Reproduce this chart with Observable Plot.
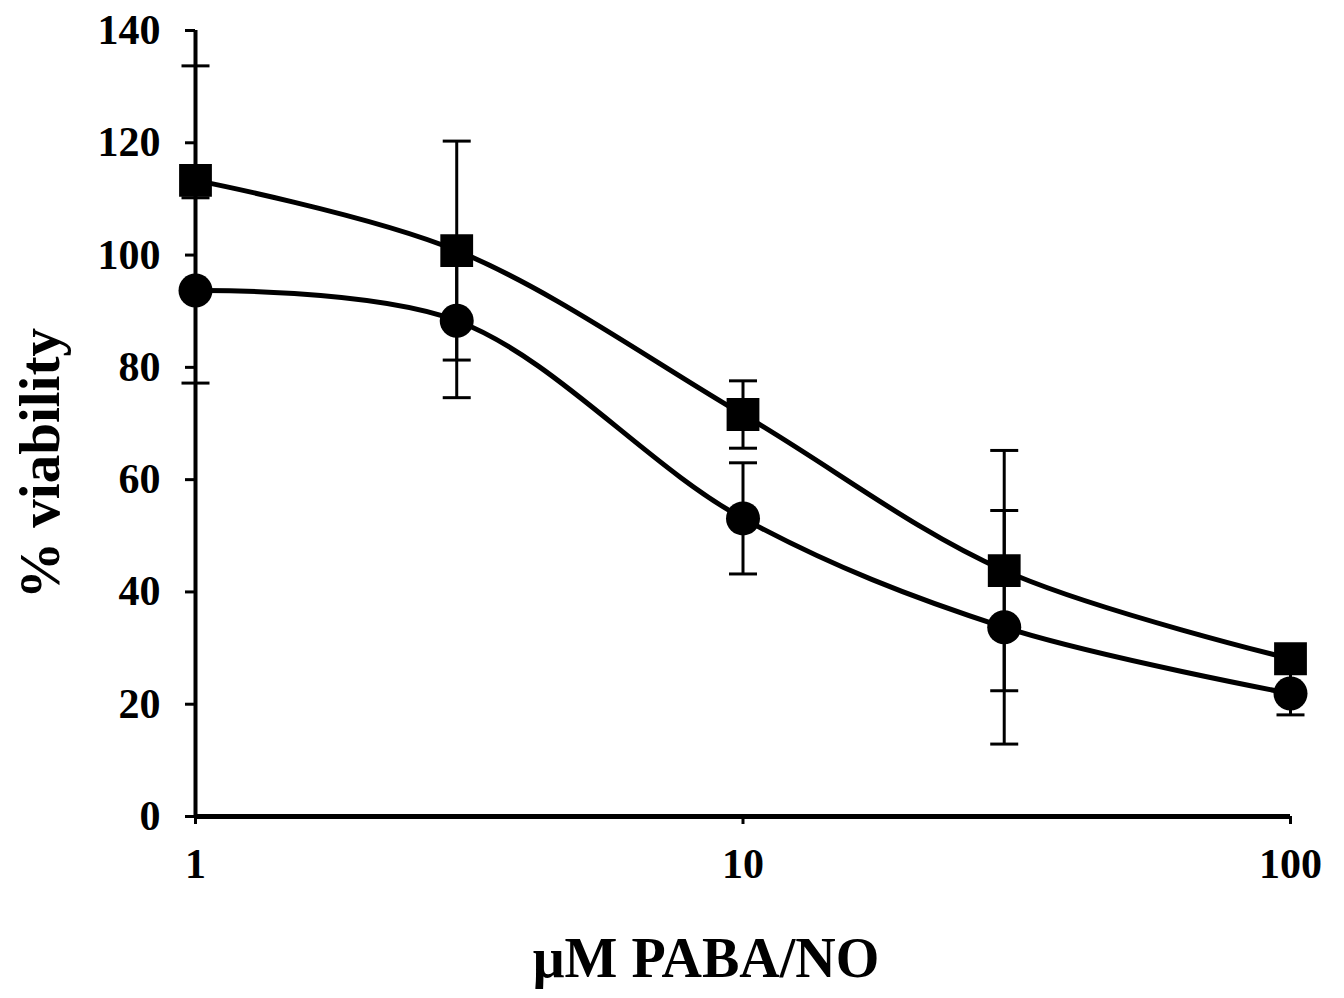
<!DOCTYPE html>
<html>
<head>
<meta charset="utf-8">
<script src="https://cdn.jsdelivr.net/npm/d3@7"></script>
<script src="https://cdn.jsdelivr.net/npm/@observablehq/plot@0.6"></script>
<style>
  html, body { margin: 0; padding: 0; background: #fff; }
  #chart svg { display: block; }
</style>
</head>
<body>
<div id="chart"></div>
<script>
// Data
const conc = [1, 3, 10, 30, 100];
const squareMean = [113.3, 100.8, 71.6, 43.8, 28.1];
const squareErr = [20.4, 19.5, 6.0, 21.4, 2.0];
const circleMean = [93.7, 88.3, 53.1, 33.7, 21.9];
const circleErr = [16.5, 13.7, 9.9, 20.8, 3.8];
const xTicks = [1, 10, 100];
const yTicks = [0, 20, 40, 60, 80, 100, 120, 140];
const xLabel = "μM PABA/NO";
const yLabel = "% viability";

const squares = conc.map((c, i) => ({x: c, y: squareMean[i], e: squareErr[i], s: "square"}));
const circles = conc.map((c, i) => ({x: c, y: circleMean[i], e: circleErr[i], s: "circle"}));
const all = squares.concat(circles);

const capSymbol = {
  draw(ctx, size) {
    const h = Math.sqrt(size / Math.PI);
    ctx.moveTo(-h, 0);
    ctx.lineTo(h, 0);
  }
};

const font = {fontFamily: "'Liberation Serif', 'Times New Roman', serif", fontWeight: "bold"};

const chart = Plot.plot({
  width: 1344,
  height: 998,
  marginLeft: 195,
  marginRight: 54,
  marginTop: 30,
  marginBottom: 182,
  style: {...font, fontSize: "42px", color: "#000", background: "#fff"},
  x: {type: "log", domain: [1, 100]},
  y: {domain: [0, 140]},
  marks: [
    Plot.axisX({ticks: xTicks, tickFormat: d => String(d), tickSize: 8, tickPadding: 24, strokeWidth: 3, label: null, fontSize: 42}),
    Plot.axisY({ticks: yTicks, tickSize: 10, tickPadding: 25, strokeWidth: 3, label: null, fontSize: 42}),
    Plot.ruleY([0], {strokeWidth: 5}),
    Plot.ruleX([1], {strokeWidth: 4}),
    // error bars
    Plot.ruleX(all, {x: "x", y1: d => d.y - d.e, y2: d => d.y + d.e, strokeWidth: 3}),
    Plot.dot(all, {x: "x", y: d => d.y + d.e, symbol: capSymbol, r: 14, stroke: "#000", strokeWidth: 3, fill: "none"}),
    Plot.dot(all, {x: "x", y: d => d.y - d.e, symbol: capSymbol, r: 14, stroke: "#000", strokeWidth: 3, fill: "none"}),
    // curves
    Plot.line(squares, {x: "x", y: "y", curve: "catmull-rom", strokeWidth: 5, stroke: "#000"}),
    Plot.line(circles, {x: "x", y: "y", curve: "catmull-rom", strokeWidth: 5, stroke: "#000"}),
    // markers
    Plot.dot(squares, {x: "x", y: "y", symbol: "square", r: 18.5, fill: "#000"}),
    Plot.dot(circles, {x: "x", y: "y", symbol: "circle", r: 17, fill: "#000"}),
    // axis titles
    Plot.text([xLabel], {frameAnchor: "bottom", textAnchor: "middle", dx: -37, dy: 160, fontSize: 56, fontWeight: "bold", fill: "#000"}),
    Plot.text([yLabel], {frameAnchor: "left", textAnchor: "middle", dx: -155, dy: 40, rotate: -90, fontSize: 57, fontWeight: "bold", fill: "#000"})
  ]
});
document.getElementById("chart").appendChild(chart);
</script>
</body>
</html>
